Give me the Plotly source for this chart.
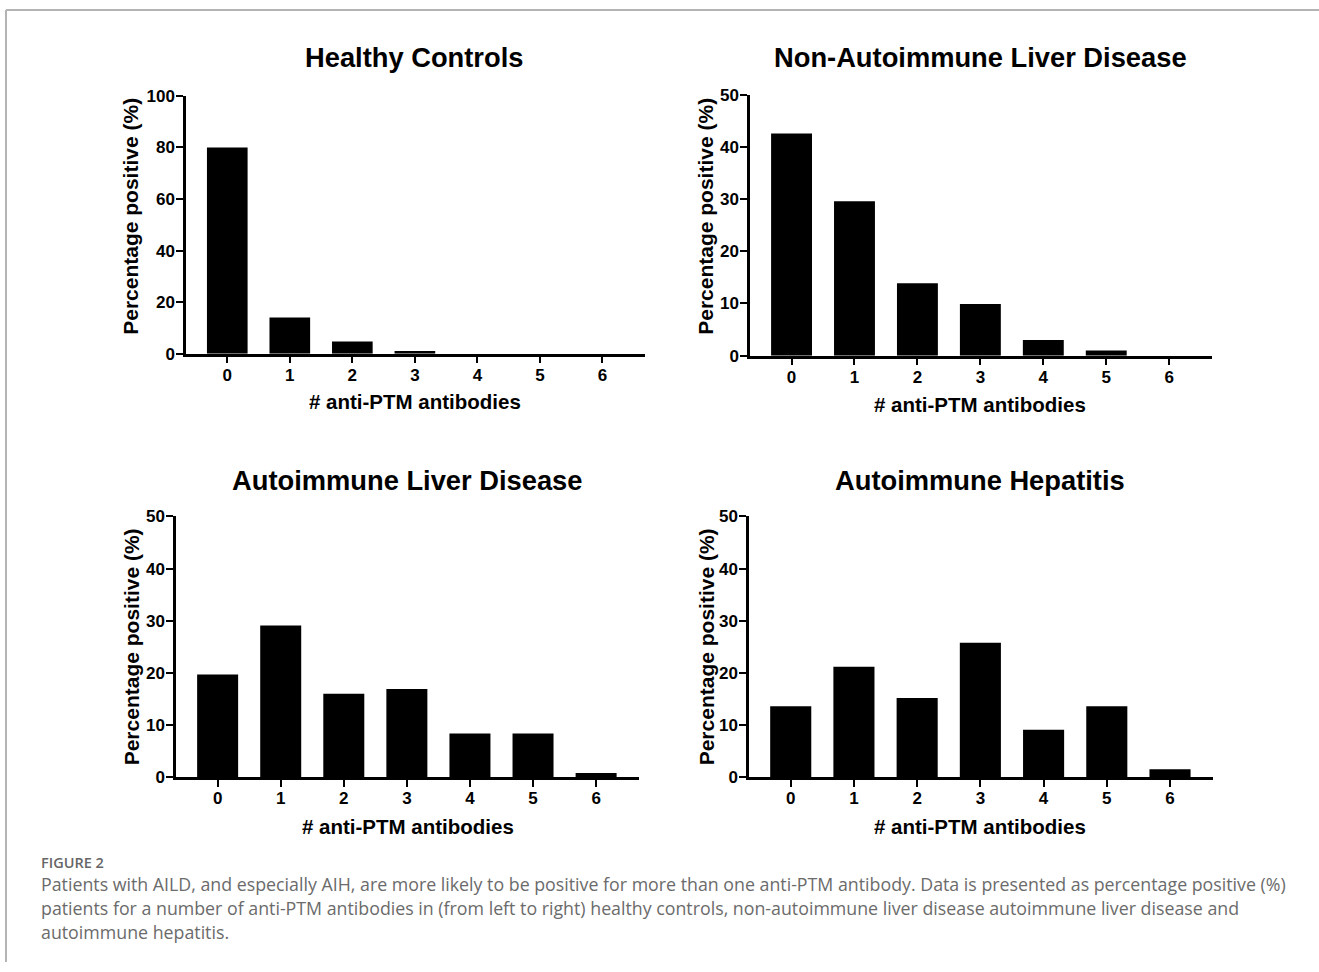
import plotly.graph_objects as go

W, H = 1319, 972

categories = [0, 1, 2, 3, 4, 5, 6]
healthy_controls = [80.0, 14.0, 4.7, 1.0, 0.0, 0.0, 0.0]
non_autoimmune_ld = [42.6, 29.6, 13.9, 9.9, 3.0, 1.0, 0.0]
autoimmune_ld = [19.7, 29.1, 16.0, 16.9, 8.4, 8.4, 0.8]
autoimmune_hep = [13.6, 21.2, 15.2, 25.8, 9.1, 13.6, 1.5]

panel_titles = ["Healthy Controls", "Non-Autoimmune Liver Disease",
                "Autoimmune Liver Disease", "Autoimmune Hepatitis"]
x_title = "# anti-PTM antibodies"
y_title = "Percentage positive (%)"
y_max = [100, 50, 50, 50]
y_dtick = [20, 10, 10, 10]

caption_head = "FIGURE 2"
caption_lines = [
    "Patients with AILD, and especially AIH, are more likely to be positive for more than one anti-PTM antibody. Data is presented as percentage positive (%)",
    "patients for a number of anti-PTM antibodies in (from left to right) healthy controls, non-autoimmune liver disease autoimmune liver disease and",
    "autoimmune hepatitis.",
]

series = [healthy_controls, non_autoimmune_ld, autoimmune_ld, autoimmune_hep]

# pixel geometry of each panel: (x_left, x_right, y_top, y_bottom)
boxes = [
    (186, 645, 95, 353),
    (750, 1212, 94, 355),
    (176, 639, 516, 777),
    (749, 1213, 516, 777),
]
title_pos = [(414, 57), (980, 57), (407, 480), (980, 480)]
xt_pos = [(415, 401), (980, 404), (408, 826), (980, 826)]
yt_pos = [(131, 216), (706, 216), (131, 647), (706, 647)]

FONT = "Liberation Sans, Arial, sans-serif"
CAP_FONT = "Open Sans, Lato, sans-serif"

# the page shows the figure 8 px down and at ~954 px of height
TOP_OFF = 8
H_EFF = 954

def px(x):
    return x / W

def py(y):
    return 1 - (y - TOP_OFF) / H_EFF

fig = go.Figure()
annotations = []
for i, (vals, box) in enumerate(zip(series, boxes)):
    n = "" if i == 0 else str(i + 1)
    fig.add_trace(go.Bar(
        x=categories, y=vals, xaxis="x" + n, yaxis="y" + n,
        marker=dict(color="black", line=dict(width=0)),
        showlegend=False, hoverinfo="x+y"))
    xl, xr, yt, yb = box
    fig.layout["xaxis" + n] = dict(
        domain=[px(xl), px(xr)], range=[-0.66, 6.68], anchor="y" + n,
        tickmode="array", tickvals=categories, ticktext=[str(c) for c in categories],
        showline=True, linecolor="black", linewidth=2.5, ticks="outside",
        ticklen=7, tickwidth=2, tickcolor="black", showgrid=False, zeroline=False,
        ticklabelstandoff=-3,
        tickfont=dict(family=FONT, size=17, color="black", weight="bold"))
    fig.layout["yaxis" + n] = dict(
        domain=[py(yb), py(yt)], range=[0, y_max[i]], anchor="x" + n,
        dtick=y_dtick[i], tick0=0,
        showline=True, linecolor="black", linewidth=2.5, ticks="outside",
        ticklen=7, tickwidth=2, tickcolor="black", showgrid=False, zeroline=False,
        ticklabelstandoff=-2,
        tickfont=dict(family=FONT, size=17, color="black", weight="bold"))
    annotations.append(dict(text=panel_titles[i], x=px(title_pos[i][0]), y=py(title_pos[i][1]),
                            xref="paper", yref="paper", showarrow=False,
                            xanchor="center", yanchor="middle",
                            font=dict(family=FONT, size=27.3, color="black", weight="bold")))
    annotations.append(dict(text=x_title, x=px(xt_pos[i][0]), y=py(xt_pos[i][1]),
                            xref="paper", yref="paper", showarrow=False,
                            xanchor="center", yanchor="middle",
                            font=dict(family=FONT, size=20.5, color="black", weight="bold")))
    annotations.append(dict(text=y_title, x=px(yt_pos[i][0]), y=py(yt_pos[i][1]),
                            xref="paper", yref="paper", showarrow=False, textangle=-90,
                            xanchor="center", yanchor="middle",
                            font=dict(family=FONT, size=21, color="black", weight="bold")))

annotations.append(dict(text=caption_head, x=px(39), y=py(862), xref="paper", yref="paper",
                        showarrow=False, xanchor="left", yanchor="middle",
                        font=dict(family=CAP_FONT, size=14.5, color="#666666", weight=600)))
for j, line in enumerate(caption_lines):
    annotations.append(dict(text=line, x=px(39), y=py(884 + 24 * j), xref="paper", yref="paper",
                            showarrow=False, xanchor="left", yanchor="middle",
                            font=dict(family=CAP_FONT, size=17.8, color="#6b6b6b")))

shapes = [
    dict(type="line", xref="paper", yref="paper", x0=px(6), x1=1, y0=py(9), y1=py(9),
         line=dict(color="#b4b4b4", width=2)),
    dict(type="line", xref="paper", yref="paper", x0=px(6), x1=px(6), y0=py(9), y1=0,
         line=dict(color="#b4b4b4", width=2)),
]

fig.update_layout(
    width=W, height=H, margin=dict(l=0, r=0, t=0, b=0),
    paper_bgcolor="white", plot_bgcolor="white",
    bargap=0.35, annotations=annotations, shapes=shapes,
)

fig.write_html("out.html")
